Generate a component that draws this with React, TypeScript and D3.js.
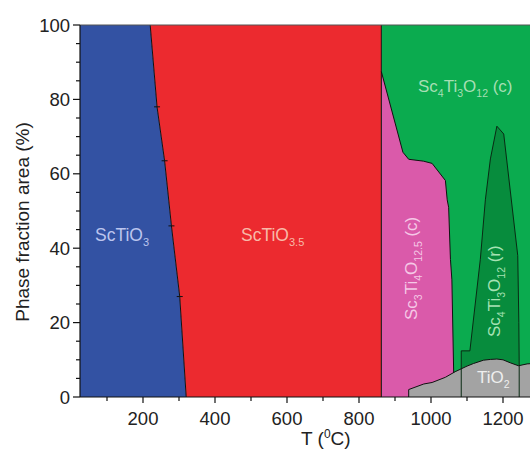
import React from 'react';
import * as d3 from 'd3';

const W = 530;
const H = 451;

// Axis ticks
const X_MAJOR = [200, 400, 600, 800, 1000, 1200];
const X_MINOR = [100, 300, 500, 700, 900, 1100, 1300];
const Y_MAJOR = [0, 20, 40, 60, 80, 100];
const Y_MINOR = d3.range(5, 100, 5).filter((v) => v % 20 !== 0);

// ScTiO3 / ScTiO3.5 boundary (T in °C, phase fraction %)
const b1T = [220, 239, 260, 279, 302, 320];
const b1V = [100, 78, 63.5, 46, 27, 0];
const b1Markers = [1, 2, 3, 4];

// ScTiO3.5 / Sc4Ti3O12 transition temperature
const tTransition = 862;

// Sc3Ti4O12.5 (c) upper boundary
const pinkT = [862, 922, 938, 979, 1003, 1040, 1045, 1049, 1054, 1058, 1063];
const pinkV = [87.5, 65.8, 63.9, 63.4, 62.8, 58.2, 53, 51, 37, 31.5, 6.5];

// Sc4Ti3O12 (r) outline
const rT = [1084, 1084, 1108, 1137, 1151, 1165, 1183, 1202, 1241, 1244, 1245, 1245];
const rV = [0, 12.4, 12.4, 37, 53, 64, 72.8, 70.7, 38, 20, 8.5, 0];

// TiO2 upper boundary
const tiT = [938, 938, 980, 1003, 1040, 1067, 1100, 1118, 1146, 1165, 1183, 1200, 1220, 1243, 1267, 1300];
const tiV = [0, 2.0, 3.5, 3.9, 5.3, 6.8, 8.3, 9.0, 9.9, 10.1, 10.2, 10.0, 9.2, 8.4, 8.9, 9.1];

const COLORS = {
  blue: '#3352a3',
  red: '#ec2a2f',
  green: '#0bab4f',
  darkGreen: '#078c3d',
  pink: '#da5aaa',
  gray: '#a3a3a3',
};

const FONT = '"Liberation Sans", Arial, sans-serif';

type Part = { t: string; sub?: boolean; sup?: boolean };

function Formula({ parts, size, subSize, fill, ...rest }: any) {
  const nodes: any[] = [];
  let shift = 0;
  parts.forEach((p: Part, i: number) => {
    const target = p.sub ? 5 : p.sup ? -7 : 0;
    const dy = target - shift;
    shift = target;
    nodes.push(
      <tspan key={i} dy={dy} fontSize={p.sub || p.sup ? subSize : size}>
        {p.t}
      </tspan>
    );
  });
  return (
    <text fill={fill} fontFamily={FONT} fontSize={size} {...rest}>
      {nodes}
    </text>
  );
}

export default function App() {
  const x = d3.scaleLinear().domain([25, 1300]).range([80, 539]);
  const y = d3.scaleLinear().domain([0, 100]).range([397, 25]);
  const line = d3
    .line<[number, number]>()
    .x((d) => x(d[0]))
    .y((d) => y(d[1]));

  const zip = (a: number[], b: number[]) => a.map((t, i) => [t, b[i]] as [number, number]);
  const b1 = zip(b1T, b1V);
  const pinkTop = zip(pinkT, pinkV);
  const rPts = zip(rT, rV);
  const tiPts = zip(tiT, tiV);

  const bluePoly = [[25, 0], [25, 100], ...b1] as [number, number][];
  const redPoly = [...b1, [tTransition, 0], [tTransition, 100]] as [number, number][];
  const pinkPoly = [[tTransition, 0], ...pinkTop, [pinkT[pinkT.length - 1], 0]] as [number, number][];
  const tiPoly = [...tiPts, [1300, 0]] as [number, number][];

  const x0 = x(25);
  const y0 = y(0);

  return (
    <svg
      width={W}
      height={H}
      style={{ position: 'absolute', left: 0, top: 0, background: '#fff' }}
    >
      <defs>
        <clipPath id="plot">
          <rect x={x0} y={y(100)} width={x(1300) - x0} height={y0 - y(100)} />
        </clipPath>
      </defs>
      <g clipPath="url(#plot)">
        <rect
          x={x(tTransition)}
          y={y(100)}
          width={x(1300) - x(tTransition)}
          height={y0 - y(100)}
          fill={COLORS.green}
        />
        <path d={line(bluePoly) + 'Z'} fill={COLORS.blue} />
        <path d={line(redPoly) + 'Z'} fill={COLORS.red} />
        <path d={line(pinkPoly) + 'Z'} fill={COLORS.pink} />
        <path d={line(rPts) + 'Z'} fill={COLORS.darkGreen} />
        <path d={line(tiPoly) + 'Z'} fill={COLORS.gray} />

        {/* phase boundaries */}
        <path d={line(b1) || ''} fill="none" stroke="#111" strokeWidth={1} />
        {b1Markers.map((i) => (
          <line
            key={i}
            x1={x(b1T[i]) - 3}
            x2={x(b1T[i]) + 3}
            y1={y(b1V[i])}
            y2={y(b1V[i])}
            stroke="#111"
            strokeWidth={1}
          />
        ))}
        <line
          x1={x(tTransition)}
          x2={x(tTransition)}
          y1={y(0)}
          y2={y(100)}
          stroke="#111"
          strokeWidth={1}
        />
        <path d={line(pinkTop) || ''} fill="none" stroke="#111" strokeWidth={1} />
        <path d={line(rPts) || ''} fill="none" stroke="#0a2a14" strokeWidth={1} />
        <path d={line(tiPts) || ''} fill="none" stroke="#111" strokeWidth={1} />
      </g>

      {/* frame top */}
      <line x1={x0} x2={W} y1={y(100)} y2={y(100)} stroke="#555" strokeWidth={1} />

      {/* axes */}
      <line x1={x0} x2={W} y1={y0} y2={y0} stroke="#111" strokeWidth={1.2} />
      <line x1={x0} x2={x0} y1={y0} y2={y(100)} stroke="#111" strokeWidth={1.2} />
      {X_MAJOR.map((t) => (
        <g key={'xm' + t}>
          <line x1={x(t)} x2={x(t)} y1={y0} y2={y0 + 6} stroke="#111" strokeWidth={1.2} />
          <text
            x={x(t)}
            y={425}
            textAnchor="middle"
            fontFamily={FONT}
            fontSize={18.5}
            fill="#222"
          >
            {t}
          </text>
        </g>
      ))}
      {X_MINOR.map((t) => (
        <line key={'xn' + t} x1={x(t)} x2={x(t)} y1={y0} y2={y0 + 4} stroke="#111" strokeWidth={1.2} />
      ))}
      {Y_MAJOR.map((v) => (
        <g key={'ym' + v}>
          <line x1={x0 - 7} x2={x0} y1={y(v)} y2={y(v)} stroke="#111" strokeWidth={1.2} />
          <text
            x={x0 - 10}
            y={y(v) + 6.5}
            textAnchor="end"
            fontFamily={FONT}
            fontSize={18.5}
            fill="#222"
          >
            {v}
          </text>
        </g>
      ))}
      {Y_MINOR.map((v) => (
        <line key={'yn' + v} x1={x0 - 4} x2={x0} y1={y(v)} y2={y(v)} stroke="#111" strokeWidth={1.2} />
      ))}

      {/* axis titles */}
      <text
        transform={`translate(29, 222) rotate(-90)`}
        textAnchor="middle"
        fontFamily={FONT}
        fontSize={19}
        fill="#222"
      >
        Phase fraction area (%)
      </text>
      <Formula
        x={301}
        y={445}
        size={19}
        subSize={12}
        fill="#222"
        parts={[{ t: 'T (' }, { t: '0', sup: true }, { t: 'C)' }]}
      />

      {/* phase labels */}
      <Formula
        x={95}
        y={241}
        size={17.5}
        subSize={11}
        fill="#bcc5ee"
        parts={[{ t: 'ScTiO' }, { t: '3', sub: true }]}
      />
      <Formula
        x={241}
        y={241}
        size={17.5}
        subSize={11}
        fill="#f8b9a8"
        parts={[{ t: 'ScTiO' }, { t: '3.5', sub: true }]}
      />
      <Formula
        x={418}
        y={92}
        size={17}
        subSize={10.5}
        fill="#a6dfb4"
        parts={[
          { t: 'Sc' },
          { t: '4', sub: true },
          { t: 'Ti' },
          { t: '3', sub: true },
          { t: 'O' },
          { t: '12', sub: true },
          { t: ' (c)' },
        ]}
      />
      <Formula
        transform="translate(417, 320) rotate(-90)"
        size={17}
        subSize={10.5}
        fill="#f5c8e6"
        parts={[
          { t: 'Sc' },
          { t: '3', sub: true },
          { t: 'Ti' },
          { t: '4', sub: true },
          { t: 'O' },
          { t: '12.5', sub: true },
          { t: ' (c)' },
        ]}
      />
      <Formula
        transform="translate(500, 337) rotate(-90)"
        size={17}
        subSize={10.5}
        fill="#a6e2b4"
        parts={[
          { t: 'Sc' },
          { t: '4', sub: true },
          { t: 'Ti' },
          { t: '3', sub: true },
          { t: 'O' },
          { t: '12', sub: true },
          { t: ' (r)' },
        ]}
      />
      <Formula
        x={477}
        y={383}
        size={17}
        subSize={10.5}
        fill="#eeeeee"
        parts={[{ t: 'TiO' }, { t: '2', sub: true }]}
      />
    </svg>
  );
}
